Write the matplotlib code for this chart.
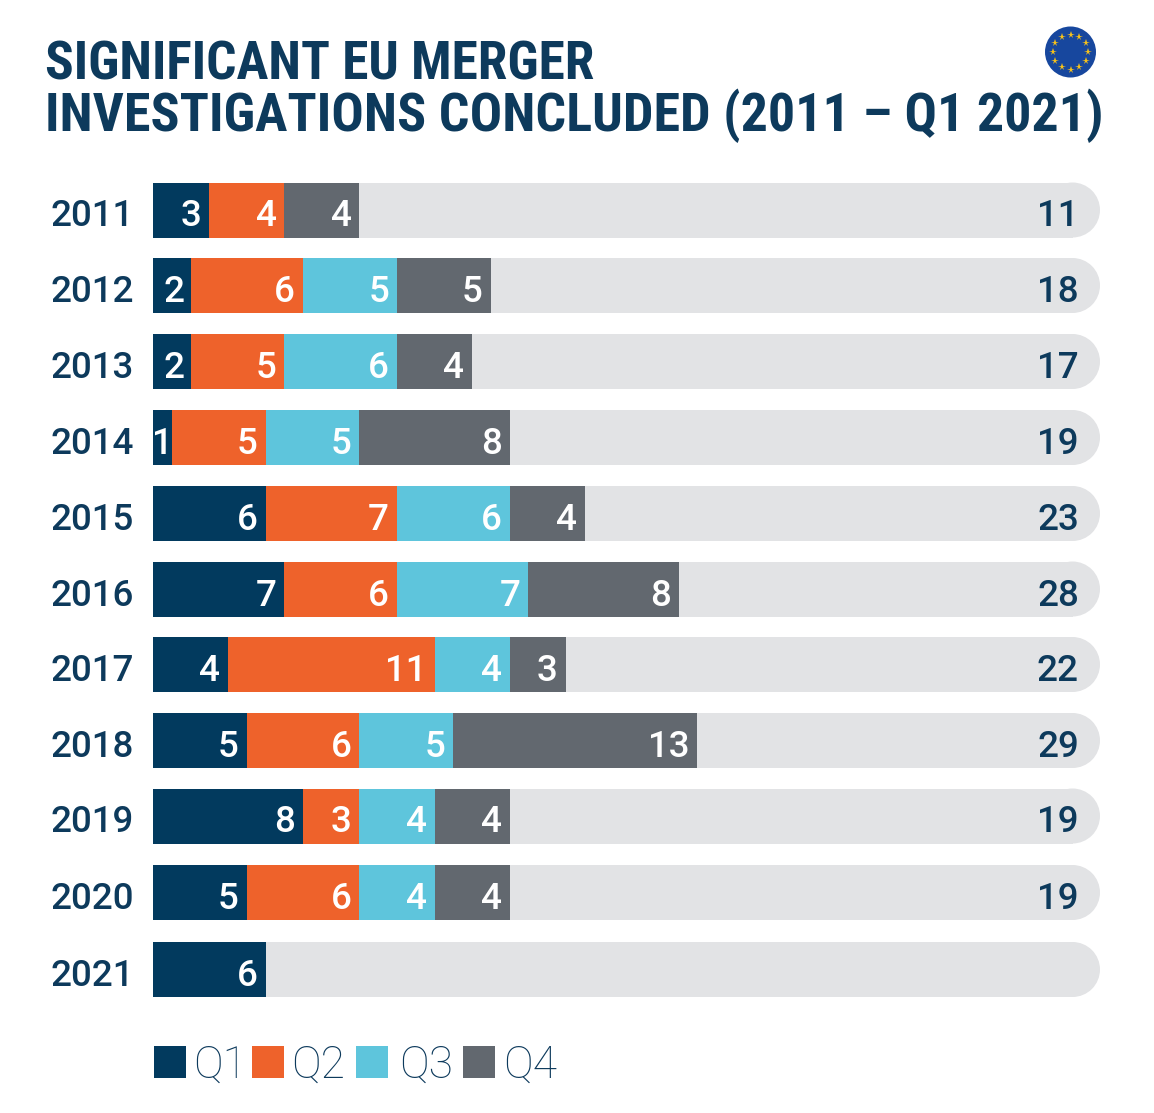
import matplotlib
matplotlib.use("Agg")
import matplotlib.pyplot as plt
from matplotlib.patches import Rectangle, Circle
import numpy as np

years = ["2011","2012","2013","2014","2015","2016","2017","2018","2019","2020","2021"]
q1 = [3,2,2,1,6,7,4,5,8,5,6]
q2 = [4,6,5,5,7,6,11,6,3,6,0]
q3 = [0,5,6,5,6,7,4,5,4,4,0]
q4 = [4,5,4,8,4,8,3,13,4,4,0]
totals = ["11","18","17","19","23","28","22","29","19","19",""]
series = [q1,q2,q3,q4]
names = ["Q1","Q2","Q3","Q4"]
colors = ["#023a5e","#ee622b","#5ec5dc","#62686f"]
navy = "#0d3a5c"
W,H = 1154,1113
FONT = "Roboto"
fig = plt.figure(figsize=(W/100,H/100),dpi=100)
bg = fig.add_axes([0,0,1,1]); bg.set_xlim(0,W); bg.set_ylim(H,0); bg.axis("off")

tops = [182.5,258,334,410,486,561.5,637,713,788.5,865,942]
bar_h = 55
x0 = 153; unit = 18.77; x_end = 1100
grey = "#e2e3e5"
for i,y in enumerate(tops):
    r = bar_h/2
    bg.add_patch(Rectangle((x0,y),x_end-x0-r,bar_h,lw=0,fc=grey))
    bg.add_patch(Circle((x_end-r,y+r),r,lw=0,fc=grey))
    left = x0
    for s,c in zip(series,colors):
        v = s[i]
        if v==0: continue
        w = v*unit
        bg.add_patch(Rectangle((left,y),w,bar_h,lw=0,fc=c,zorder=3))
        if v==1:
            tx,ha = left+w/2-0.5,"center"
        else:
            tx,ha = left+w-(6 if v==2 else 8),"right"
        bg.text(tx,y+44,str(v),color="white",fontsize=26.5,fontweight="medium",family=FONT,ha=ha,va="baseline",zorder=4)
        left += w
    bg.text(50,y+44,years[i],color=navy,fontsize=26.5,fontweight="medium",family=FONT,ha="left",va="baseline")
    if totals[i]:
        bg.text(1079,y+44,totals[i],color=navy,fontsize=26.5,fontweight="medium",family=FONT,ha="right",va="baseline")

title_font = ["Liberation Sans Narrow","Roboto Condensed","Roboto"]
bg.text(45,79,"SIGNIFICANT EU MERGER",color=navy,fontsize=38.4,fontweight="bold",family=title_font,va="baseline",ha="left")
bg.text(45,131,"INVESTIGATIONS CONCLUDED (2011 – Q1 2021)",color=navy,fontsize=38.9,fontweight="bold",family=title_font,va="baseline",ha="left")

# EU flag
bg.add_patch(Circle((1070.5,52),25.5,fc="#17479e",lw=0))
for a in np.arange(0,360,30):
    bg.plot(1070.5+17.5*np.cos(np.radians(a)),52+17.5*np.sin(np.radians(a)),marker="*",ms=5.5,color="#f7c21a",mew=0)

lx = [154,252,356,463]
tx = [193,291,399,503]
for x,t,c,n in zip(lx,tx,colors,names):
    bg.add_patch(Rectangle((x,1045.5),32,32,fc=c,lw=0))
    bg.text(t,1078,n,color=navy,fontsize=32,fontweight="light",family=FONT,va="baseline",ha="left")
fig.savefig("out.png",dpi=100)
